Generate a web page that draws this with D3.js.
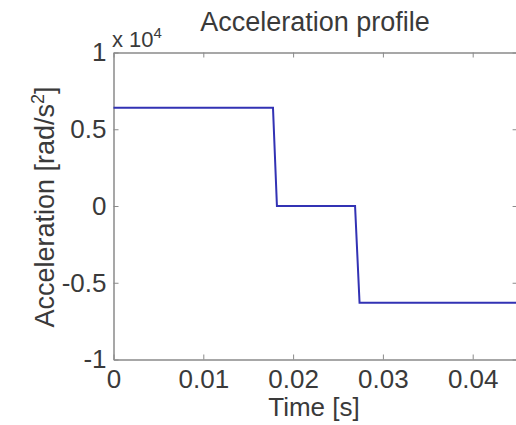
<!DOCTYPE html>
<html>
<head>
<meta charset="utf-8">
<script src="https://d3js.org/d3.v7.min.js"></script>
<style>
  body { margin: 0; background: #fff; overflow: hidden; }
  svg { display: block; font-family: "Liberation Sans", Arial, sans-serif; }
</style>
</head>
<body>
<div id="chart"></div>
<script>
// step profile: time [s] and acceleration [rad/s^2]
var times = [0, 0.01776, 0.0182, 0.0269, 0.0274, 0.045];
var accel = [6400, 6400, 0, 0, -6300, -6300];

var xTicks = [0, 0.01, 0.02, 0.03, 0.04];
var xTickLabels = ["0", "0.01", "0.02", "0.03", "0.04"];
var yTicks = [-10000, -5000, 0, 5000, 10000];
var yTickLabels = ["-1", "-0.5", "0", "0.5", "1"];

var width = 516, height = 425;
var margin = {top: 52.5, left: 113.5, bottom: 359.5, right: 517.6};
var textColor = "#3a3a3a", axisColor = "#8a8a8a";

var svg = d3.select("#chart")
  .append("svg")
    .attr("width", width)
    .attr("height", height);

var x = d3.scaleLinear().domain([0, 0.045]).range([margin.left, margin.right]);
var y = d3.scaleLinear().domain([-10000, 10000]).range([margin.bottom, margin.top]);

// axes box with inward ticks
function styleAxis(g) {
  g.select(".domain").attr("stroke", axisColor).attr("stroke-width", 1.5);
  g.selectAll(".tick line").attr("stroke", axisColor).attr("stroke-width", 1);
  g.selectAll(".tick text").attr("fill", textColor)
    .style("font-size", "26px").style("font-family", "Liberation Sans, Arial, sans-serif");
}

svg.append("g")
  .attr("transform", "translate(0," + margin.bottom + ")")
  .call(d3.axisBottom(x).tickValues(xTicks)
    .tickFormat(function(d, i) { return xTickLabels[i]; })
    .tickSize(-5).tickSizeOuter(0).tickPadding(10))
  .call(styleAxis);

svg.append("g")
  .attr("transform", "translate(0," + margin.top + ")")
  .call(d3.axisTop(x).tickValues(xTicks).tickFormat("").tickSize(-5).tickSizeOuter(0))
  .call(styleAxis);

svg.append("g")
  .attr("transform", "translate(" + margin.left + ",0)")
  .call(d3.axisLeft(y).tickValues(yTicks)
    .tickFormat(function(d, i) { return yTickLabels[i]; })
    .tickSize(-5).tickSizeOuter(0).tickPadding(7))
  .call(styleAxis);

svg.append("g")
  .attr("transform", "translate(" + margin.right + ",0)")
  .call(d3.axisRight(y).tickValues(yTicks).tickFormat("").tickSize(-5).tickSizeOuter(0))
  .call(styleAxis);

// the profile line
var line = d3.line()
  .x(function(d, i) { return x(times[i]); })
  .y(function(d) { return y(d); });

svg.append("path")
  .datum(accel)
  .attr("fill", "none")
  .attr("stroke", "#3232b4")
  .attr("stroke-width", 2)
  .attr("d", line);

// title and labels
svg.append("text")
  .attr("x", 315).attr("y", 31)
  .attr("text-anchor", "middle")
  .attr("fill", textColor)
  .style("font-size", "27px")
  .text("Acceleration profile");

var expo = svg.append("text")
  .attr("x", 112).attr("y", 47)
  .attr("fill", textColor)
  .style("font-size", "22px");
expo.append("tspan").text("x 10");
expo.append("tspan").attr("dy", -9).style("font-size", "15px").text("4");

svg.append("text")
  .attr("x", 314).attr("y", 416)
  .attr("text-anchor", "middle")
  .attr("fill", textColor)
  .style("font-size", "26px")
  .text("Time [s]");

var ylab = svg.append("text")
  .attr("transform", "translate(54,207) rotate(-90)")
  .attr("text-anchor", "middle")
  .attr("fill", textColor)
  .style("font-size", "27px");
ylab.append("tspan").text("Acceleration [rad/s");
ylab.append("tspan").attr("dy", -10).style("font-size", "18px").text("2");
ylab.append("tspan").attr("dy", 10).text("]");
</script>
</body>
</html>
